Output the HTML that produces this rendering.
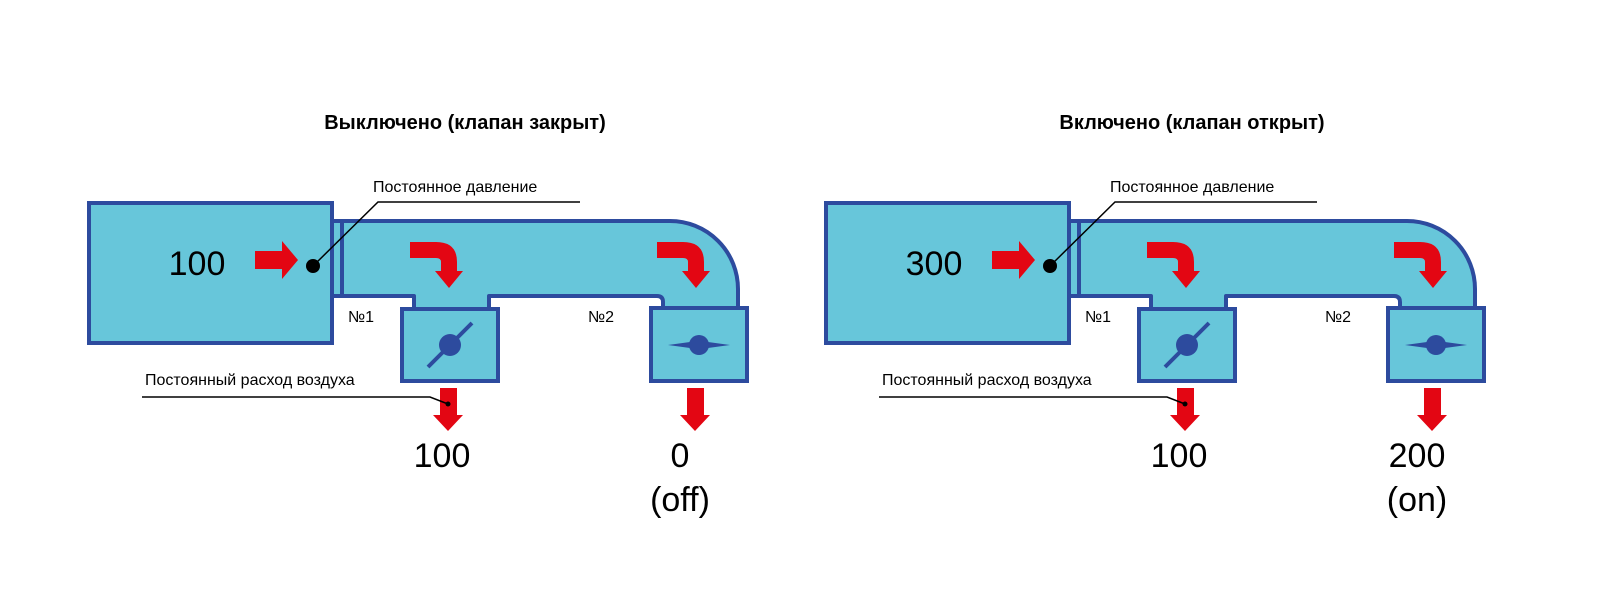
<!DOCTYPE html>
<html><head><meta charset="utf-8"><style>
html,body{margin:0;padding:0;background:#fff}
svg{display:block}
text{font-family:"Liberation Sans",sans-serif}
</style></head><body>
<svg width="1601" height="601" viewBox="0 0 1601 601" xmlns="http://www.w3.org/2000/svg">
<defs>
<g id="d">
  <path d="M331,221 H670 A68,68 0 0 1 738,289 V310 H663 V302 Q663,296 657,296 H489 V311 H414 V296 H331 Z" fill="#67c6da" stroke="#2d4b9e" stroke-width="4" stroke-linejoin="round"/>
  <line x1="342" y1="221" x2="342" y2="296" stroke="#2d4b9e" stroke-width="4"/>
  <rect x="89" y="203" width="243" height="140" fill="#67c6da" stroke="#2d4b9e" stroke-width="4"/>
  <rect x="402" y="309" width="96" height="72" fill="#67c6da" stroke="#2d4b9e" stroke-width="4"/>
  <rect x="651" y="308" width="96" height="73" fill="#67c6da" stroke="#2d4b9e" stroke-width="4"/>
  <polygon points="255,251 282,251 282,241 298,260 282,279 282,269 255,269" fill="#e30613"/>
  <circle cx="313" cy="266" r="7" fill="#000"/>
  <polyline points="313,266 378,202 580,202" fill="none" stroke="#000" stroke-width="1.5"/>
  <text x="373" y="192" font-size="16">Постоянное давление</text>
  <path d="M410,242 H436 Q457,242 457,262 V271 H463 L449,288 L435,271 H441 V262 Q441,258 436,258 H410 Z" fill="#e30613"/>
  <path d="M657,242 H683 Q704,242 704,262 V271 H710 L696,288 L682,271 H688 V262 Q688,258 683,258 H657 Z" fill="#e30613"/>
  <polygon points="440,388 457,388 457,415 463,415 448,431 433,415 440,415" fill="#e30613"/>
  <polygon points="687,388 704,388 704,415 710,415 695,431 680,415 687,415" fill="#e30613"/>
  <polyline points="142,397 430,397 448,404" fill="none" stroke="#000" stroke-width="1.5"/>
  <circle cx="448" cy="404" r="2.5" fill="#000"/>
  <text x="145" y="385" font-size="16">Постоянный расход воздуха</text>
  <text x="348" y="322" font-size="16">№1</text>
  <text x="588" y="322" font-size="16">№2</text>
</g>
</defs>

<use href="#d"/>
<use href="#d" transform="translate(737,0)"/>

<text x="465" y="129" font-size="20" font-weight="bold" text-anchor="middle">Выключено (клапан закрыт)</text>
<text x="197" y="275" font-size="34" text-anchor="middle">100</text>
<line x1="428" y1="367" x2="472" y2="323" stroke="#2d4b9e" stroke-width="4"/>
<circle cx="450" cy="345" r="11" fill="#2d4b9e"/>
<polygon points="668,345 690,342 708,342 730,345 708,348 690,348" fill="#2d4b9e"/>
<circle cx="699" cy="345" r="10" fill="#2d4b9e"/>
<text x="442" y="467" font-size="34" text-anchor="middle">100</text>
<text x="680" y="467" font-size="34" text-anchor="middle">0</text>
<text x="680" y="511" font-size="34" text-anchor="middle">(off)</text>

<text x="1192" y="129" font-size="20" font-weight="bold" text-anchor="middle">Включено (клапан открыт)</text>
<text x="934" y="275" font-size="34" text-anchor="middle">300</text>
<line x1="1165" y1="367" x2="1209" y2="323" stroke="#2d4b9e" stroke-width="4"/>
<circle cx="1187" cy="345" r="11" fill="#2d4b9e"/>
<polygon points="1405,345 1427,342 1445,342 1467,345 1445,348 1427,348" fill="#2d4b9e"/>
<circle cx="1436" cy="345" r="10" fill="#2d4b9e"/>
<text x="1179" y="467" font-size="34" text-anchor="middle">100</text>
<text x="1417" y="467" font-size="34" text-anchor="middle">200</text>
<text x="1417" y="511" font-size="34" text-anchor="middle">(on)</text>
</svg>
</body></html>
